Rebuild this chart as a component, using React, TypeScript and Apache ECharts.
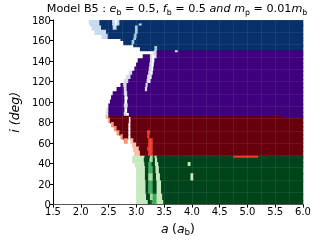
import React, { useEffect, useRef } from "react";
import * as echarts from "echarts";

// Stability map, semi-major axis a (a_b) vs inclination i (deg).
// Each band: [iFrom, iTo, runs]; each run: [aFrom, level(0..4), familyOverride?]
// A run lasts until the next run's aFrom (or A_MAX). Level 0 = unstable (white).
type Run = [number, number, string?];
type Band = [number, number, Run[]];

const A_MIN = 1.5;
const A_MAX = 6.0;
const I_MIN = 0;
const I_MAX = 180;

const blueBands: Band[] = [
  [176, 180, [[2.15, 1], [2.34, 4], [2.57, 1], [2.61, 0], [2.65, 1], [2.7, 4]]],
  [174, 176, [[2.17, 1], [2.34, 4], [2.57, 1], [2.61, 0], [2.65, 1], [2.7, 4], [3.05, 1], [3.1, 4]]],
  [170, 174, [[2.2, 1], [2.37, 4], [2.58, 1], [2.65, 4], [2.98, 2], [3.03, 4]]],
  [166, 170, [[2.25, 1], [2.46, 4], [2.98, 2], [3.03, 4]]],
  [162, 166, [[2.38, 1], [2.49, 4], [2.96, 2], [3.01, 4]]],
  [160, 162, [[2.72, 4], [2.95, 2], [3.0, 4]]],
  [156, 160, [[2.77, 4], [2.92, 2], [2.97, 4]]],
  [154, 156, [[2.95, 4]]],
  [150, 154, [[3.07, 4], [3.33, 2], [3.38, 4]]],
];

const purpleBands: Band[] = [
  [148, 150, [[3.32, 1], [3.37, 4], [3.7, 1], [3.75, 4]]],
  [146, 148, [[3.3, 1], [3.37, 4]]],
  [142, 146, [[3.12, 4], [3.25, 1], [3.28, 0], [3.33, 1], [3.37, 4]]],
  [138, 142, [[3.03, 4], [3.25, 1], [3.28, 0], [3.33, 4]]],
  [134, 138, [[3.0, 4], [3.24, 1], [3.27, 0], [3.32, 4]]],
  [130, 134, [[2.97, 4], [3.23, 1], [3.27, 0], [3.31, 4]]],
  [126, 130, [[2.87, 1], [2.93, 4], [3.22, 1], [3.26, 0], [3.3, 4]]],
  [122, 126, [[2.82, 1], [2.9, 4], [3.2, 1], [3.24, 0], [3.28, 4]]],
  [118, 122, [[2.78, 1], [2.86, 4], [3.19, 1], [3.23, 0], [3.26, 4]]],
  [114, 118, [[2.72, 4], [2.77, 1], [2.83, 4], [3.17, 1], [3.21, 4]]],
  [110, 114, [[2.65, 4], [2.78, 1], [2.83, 4], [3.16, 1], [3.2, 4]]],
  [106, 110, [[2.58, 4], [2.78, 1], [2.84, 4]]],
  [102, 106, [[2.55, 4], [2.78, 0], [2.85, 4]]],
  [98, 102, [[2.53, 4], [2.78, 0], [2.84, 4]]],
  [94, 98, [[2.5, 4], [2.78, 1], [2.85, 4]]],
  [90, 94, [[2.47, 1], [2.5, 4], [2.78, 0], [2.84, 4]]],
  [86, 90, [[2.45, 1], [2.5, 4], [2.78, 1], [2.82, 0], [2.87, 4]]],
];

const redBands: Band[] = [
  [84, 86, [[2.45, 1], [2.5, 4], [2.86, 0], [2.9, 4], [5.65, 4, "P"]]],
  [80, 84, [[2.5, 2], [2.53, 4], [2.86, 0], [2.9, 4]]],
  [76, 80, [[2.55, 2], [2.6, 4], [2.85, 0], [2.9, 4]]],
  [72, 76, [[2.6, 2], [2.65, 4], [2.85, 0], [2.9, 4]]],
  [68, 72, [[2.65, 2], [2.7, 4], [2.85, 0], [2.9, 4], [3.2, 3], [3.25, 4]]],
  [64, 68, [[2.72, 2], [2.76, 4], [2.85, 0], [2.9, 4], [3.2, 3], [3.24, 4]]],
  [60, 64, [[2.78, 2], [2.84, 0], [2.9, 1], [2.95, 4], [3.22, 3], [3.3, 4]]],
  [56, 60, [[2.93, 1], [3.0, 4], [3.22, 3], [3.3, 4]]],
  [52, 56, [[2.95, 1], [3.05, 4], [3.2, 3], [3.3, 4]]],
  [47, 52, [[2.97, 1], [3.07, 4], [3.22, 3], [3.3, 4]]],
];

const greenBands: Band[] = [
  [45, 47, [[2.93, 1], [3.15, 4], [3.25, 2], [3.3, 4], [3.33, 1], [3.37, 4], [4.75, 3, "R"], [5.2, 4]]],
  [41, 45, [[2.93, 1], [3.14, 4], [3.24, 2], [3.3, 4], [3.34, 1], [3.38, 4]]],
  [37, 41, [[2.98, 1], [3.15, 4], [3.22, 3], [3.28, 4], [3.34, 1], [3.4, 4], [3.93, 1], [3.98, 4]]],
  [30, 37, [[3.0, 1], [3.16, 4], [3.22, 3], [3.3, 4], [3.35, 1], [3.41, 4]]],
  [23, 30, [[3.0, 1], [3.16, 4], [3.22, 2], [3.3, 4], [3.36, 1], [3.43, 4], [3.98, 1], [4.03, 4]]],
  [10, 23, [[3.0, 1], [3.17, 4], [3.22, 3], [3.3, 4], [3.37, 1], [3.45, 4]]],
  [4, 10, [[3.0, 1], [3.18, 4], [3.25, 2], [3.3, 3], [3.37, 1], [3.47, 4]]],
  [0, 4, [[3.0, 1], [3.21, 4], [3.28, 3], [3.37, 1], [3.49, 4]]],
];

const families = ["B", "P", "R", "G"];
const palettes: Record<string, string[]> = {
  B: ["#ffffff", "#c6dbef", "#9ecae1", "#4292c6", "#08306b"],
  P: ["#ffffff", "#dadaeb", "#bcbddc", "#807dba", "#3f007d"],
  R: ["#ffffff", "#fcbba1", "#fc9272", "#ef3b2c", "#67000d"],
  G: ["#ffffff", "#c7e9c0", "#a1d99b", "#41ab5d", "#00441b"],
};

function buildCells(bands: Band[], fam: string): number[][] {
  const out: number[][] = [];
  bands.forEach(([i0, i1, runs]) => {
    runs.forEach((r, k) => {
      const a0 = r[0];
      const a1 = k + 1 < runs.length ? runs[k + 1][0] : A_MAX;
      const lvl = r[1];
      const f = r[2] ?? fam;
      if (lvl > 0) out.push([a0, a1, i0, i1, families.indexOf(f), lvl]);
    });
  });
  return out;
}

const font = "DejaVu Sans";
const richStyles = (size: number, lh: number) => ({
  n: { fontFamily: font, fontSize: size, fontWeight: "normal", color: "#000", lineHeight: lh, verticalAlign: "middle" },
  i: { fontFamily: font, fontSize: size, fontWeight: "normal", fontStyle: "italic", color: "#000", lineHeight: lh, verticalAlign: "middle" },
  s: { fontFamily: font, fontSize: size * 0.7, fontWeight: "normal", color: "#000", lineHeight: lh, verticalAlign: "bottom" },
});

const seam = { show: true, lineStyle: { color: "rgba(255,255,255,0.07)", width: 1 } };

export default function App() {
  const ref = useRef<HTMLDivElement>(null);
  useEffect(() => {
    if (!ref.current) return;
    const chart = echarts.init(ref.current, undefined, { renderer: "svg" });
    const cells = [
      ...buildCells(blueBands, "B"),
      ...buildCells(purpleBands, "P"),
      ...buildCells(redBands, "R"),
      ...buildCells(greenBands, "G"),
    ];
    chart.setOption({
      animation: false,
      title: {
        left: 177,
        top: 1,
        padding: 0,
        textAlign: "center",
        text:
          "{n|Model B5 : }{i|e}{s|b}{n| = 0.5, }{i|f}{s|b}{n| = 0.5 }{i|and}{n| }{i|m}{s|p}{n| = 0.01}{i|m}{s|b}",
        textStyle: { fontWeight: "normal", rich: richStyles(11.2, 15) },
      },
      grid: { left: 45, top: 20, width: 258, height: 192 },
      xAxis: [
        {
          type: "value",
          min: A_MIN,
          max: A_MAX,
          interval: 0.5,
          position: "bottom",
          axisLine: { lineStyle: { color: "#000", width: 1 } },
          axisTick: { length: 3, lineStyle: { color: "#000" } },
          axisLabel: { fontFamily: font, fontSize: 10, color: "#000", margin: 2, formatter: (v: number) => v.toFixed(1) },
          splitLine: { show: false },
          name: "{i|a} {n|(}{i|a}{s|b}{n|)}",
          nameLocation: "middle",
          nameGap: 9,
          nameTextStyle: { rich: richStyles(12.5, 16) },
          z: 4,
        },
        {
          type: "value",
          min: A_MIN,
          max: A_MAX,
          position: "top",
          axisLine: { show: true, lineStyle: { color: "#555", width: 1 } },
          axisTick: { show: false },
          axisLabel: { show: false },
          splitLine: { show: false },
          z: 4,
        },
        {
          type: "value",
          min: A_MIN,
          max: A_MAX,
          interval: 0.25,
          position: "bottom",
          axisLine: { show: false },
          axisTick: { show: false },
          axisLabel: { show: false },
          splitLine: seam,
          z: 3,
        },
      ],
      yAxis: [
        {
          type: "value",
          min: I_MIN,
          max: I_MAX,
          interval: 20,
          axisLine: { show: true, lineStyle: { color: "#000", width: 1 } },
          axisTick: { show: true, length: 3, lineStyle: { color: "#000" } },
          axisLabel: { fontFamily: font, fontSize: 10, color: "#000", margin: 2 },
          splitLine: { show: false },
          name: "i (deg)",
          nameLocation: "middle",
          nameGap: 29,
          nameRotate: 90,
          nameTextStyle: { fontFamily: font, fontSize: 12.5, fontStyle: "italic", color: "#000" },
          z: 4,
        },
        {
          type: "value",
          min: I_MIN,
          max: I_MAX,
          interval: 12,
          position: "right",
          axisLine: { show: false },
          axisTick: { show: false },
          axisLabel: { show: false },
          splitLine: seam,
          z: 3,
        },
      ],
      series: [
        {
          type: "custom",
          xAxisIndex: 0,
          yAxisIndex: 0,
          clip: true,
          data: cells,
          encode: { x: [0, 1], y: [2, 3] },
          renderItem: (_params: any, api: any) => {
            const p0 = api.coord([api.value(0), api.value(3)]);
            const p1 = api.coord([api.value(1), api.value(2)]);
            const fam = families[api.value(4)];
            const color = palettes[fam][api.value(5)];
            return {
              type: "rect",
              shape: {
                x: p0[0] - 0.3,
                y: p0[1] - 0.6,
                width: p1[0] - p0[0] + 0.6,
                height: p1[1] - p0[1] + 1.2,
              },
              style: { fill: color },
            };
          },
        },
      ],
    });
    return () => chart.dispose();
  }, []);
  return <div ref={ref} style={{ position: "fixed", left: 0, top: 0, width: 316, height: 241 }} />;
}
